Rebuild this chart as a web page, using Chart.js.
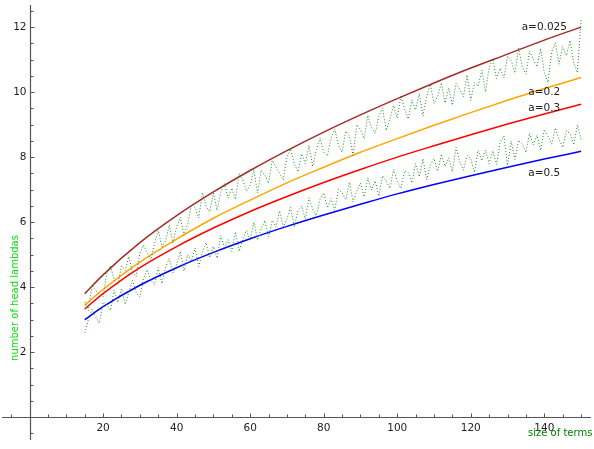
<!DOCTYPE html>
<html>
<head>
<meta charset="utf-8">
<title>head lambdas</title>
<script src="https://cdn.jsdelivr.net/npm/chart.js@4/dist/chart.umd.min.js"></script>
<style>
  html, body { margin: 0; padding: 0; background: #fff; }
  #wrap { width: 594px; height: 449px; position: relative; }
</style>
</head>
<body>
<div id="wrap"><canvas id="chart"></canvas></div>
<script>
/*=========================================================
DATA
=========================================================*/

// fitted curves, read at a few sizes
const curveX = [15, 20, 30, 40, 50, 60, 70, 80, 90, 100, 110, 120, 130, 140, 150];

const a025 = [3.8, 4.38, 5.37, 6.2, 6.93, 7.59, 8.2, 8.77, 9.3, 9.8, 10.28, 10.74, 11.17, 11.6, 12.0];
const a02 = [3.45, 3.93, 4.77, 5.48, 6.12, 6.68, 7.21, 7.69, 8.15, 8.57, 8.98, 9.37, 9.75, 10.11, 10.45];
const a03 = [3.33, 3.8, 4.6, 5.25, 5.82, 6.33, 6.79, 7.22, 7.62, 8.0, 8.35, 8.69, 9.02, 9.33, 9.63];
const a05 = [3.0, 3.4, 4.06, 4.6, 5.07, 5.49, 5.87, 6.22, 6.55, 6.87, 7.16, 7.43, 7.69, 7.94, 8.18];

// measured counts, size of terms 15..150
const firstSize = 15;

const upperBand = [
  3.55, 3.28, 4.06, 3.89, 3.77, 3.7, 4.43, 4.66, 4.24, 4.07,
  4.65, 4.52, 4.94, 4.46, 4.33, 5.05, 5.3, 5.05, 4.85, 5.35,
  5.75, 5.24, 5.43, 5.92, 5.36, 5.85, 6.15, 5.6, 5.95, 6.55,
  6.45, 6.13, 6.91, 6.49, 6.32, 6.9, 6.36, 6.92, 7.18, 6.74,
  7.05, 6.7, 7.5, 7.3, 6.95, 7.15, 7.6, 6.9, 7.6, 7.45,
  7.2, 7.9, 7.7, 7.5, 7.3, 8.0, 8.25, 7.8, 7.55, 8.1,
  7.8, 8.36, 7.72, 8.23, 8.59, 8.15, 8.04, 8.58, 8.87, 8.36,
  8.15, 8.8, 8.65, 8.05, 9.0, 8.85, 8.57, 9.29, 8.91, 8.73,
  9.25, 9.51, 8.82, 9.18, 9.59, 9.2, 9.89, 9.48, 9.17, 9.76,
  9.45, 9.96, 9.27, 9.88, 10.24, 9.65, 9.87, 10.29, 9.66, 10.13,
  9.6, 10.27, 10.09, 9.86, 10.53, 9.75, 10.29, 10.18, 10.67, 10.01,
  10.75, 11.01, 10.42, 10.73, 10.44, 11.1, 10.97, 10.59, 11.36, 10.78,
  10.55, 11.26, 11.02, 10.78, 11.34, 10.6, 10.3, 11.23, 11.52, 10.86,
  11.4, 11.12, 11.59, 10.91, 10.6, 12.25,
];

const lowerBand = [
  2.6, 3.01, 3.32, 3.08, 2.89, 3.55, 3.47, 3.29, 3.91, 3.53,
  3.95, 3.47, 3.84, 4.21, 3.83, 3.7, 4.27, 4.54, 4.21, 4.08,
  4.6, 4.11, 4.62, 4.88, 4.44, 4.7, 5.1, 4.5, 5.0, 4.8,
  5.2, 4.64, 5.08, 5.37, 4.91, 5.25, 4.89, 5.58, 5.22, 5.46,
  5.1, 5.7, 5.1, 5.5, 5.75, 5.45, 6.0, 5.45, 5.8, 6.05,
  5.55, 6.05, 5.85, 6.35, 5.85, 6.1, 6.45, 5.85, 6.35, 6.5,
  6.1, 6.75, 6.4, 6.2, 6.7, 6.9, 6.44, 6.73, 6.37, 7.01,
  6.9, 6.69, 7.23, 6.62, 6.96, 7.2, 6.78, 7.36, 6.99, 7.27,
  6.8, 7.43, 7.26, 7.04, 7.62, 7.25, 7.04, 7.58, 7.52, 7.21,
  7.8, 7.4, 7.95, 7.3, 7.75, 7.95, 7.57, 8.09, 7.71, 7.98,
  7.55, 8.3, 7.85, 7.6, 8.05, 7.95, 7.53, 8.21, 7.89, 8.22,
  7.8, 8.19, 7.78, 8.47, 8.65, 7.75, 8.49, 7.93, 8.52, 8.41,
  8.15, 8.74, 8.38, 8.67, 8.21, 8.85, 8.65, 8.4, 8.9, 8.55,
  8.3, 8.81, 8.72, 8.38, 8.99, 8.55,
];

// curve annotations
const curveNames = ["a=0.025", "a=0.2", "a=0.3", "a=0.5"];
const curveColors = ["#a52a2a", "#ffa500", "#ff0000", "#0000ff"];
const nameX = 140;
const nameY = [12, 10, 9.5, 7.5];

// ticks
const xTickLabels = [20, 40, 60, 80, 100, 120, 140];
const yTickLabels = [2, 4, 6, 8, 10, 12];

/*=========================================================
HELPERS
=========================================================*/

function toPoints(xs, ys) {
  return ys.map((y, i) => ({ x: xs[i], y: y }));
}

const termSizes = upperBand.map((_, i) => firstSize + i);

/*=========================================================
AXES PLUGIN (sage style axes crossing at 0)
=========================================================*/

const crossAxes = {
  id: "crossAxes",

  afterDatasetsDraw(chart) {
    const ctx = chart.ctx;
    const xs = chart.scales.x;
    const ys = chart.scales.y;
    const area = chart.chartArea;

    const x0 = Math.round(xs.getPixelForValue(0)) + 0.5;
    const y0 = Math.round(ys.getPixelForValue(0)) + 0.5;

    ctx.save();
    ctx.strokeStyle = "#555";
    ctx.lineWidth = 1.2;

    ctx.beginPath();
    ctx.moveTo(area.left, y0);
    ctx.lineTo(area.right, y0);
    ctx.moveTo(x0, area.top);
    ctx.lineTo(x0, area.bottom);
    ctx.stroke();

    // x ticks, every 5
    ctx.lineWidth = 1;
    ctx.beginPath();
    for (let v = -5; v <= xs.max; v += 5) {
      if (v === 0) continue;
      const px = Math.round(xs.getPixelForValue(v)) + 0.5;
      const len = v % 20 === 0 ? 4 : 3;
      ctx.moveTo(px, y0);
      ctx.lineTo(px, y0 - len);
    }

    // y ticks, every 0.5
    for (let v = -0.5; v <= ys.max; v += 0.5) {
      if (v === 0) continue;
      const py = Math.round(ys.getPixelForValue(v)) + 0.5;
      const len = v % 2 === 0 ? 4 : 3;
      ctx.moveTo(x0, py);
      ctx.lineTo(x0 + len, py);
    }
    ctx.stroke();

    ctx.fillStyle = "#222";
    ctx.font = "10.5px 'DejaVu Sans'";

    ctx.textAlign = "center";
    ctx.textBaseline = "top";
    xTickLabels.forEach((v) => {
      ctx.fillText(String(v), xs.getPixelForValue(v), y0 + 6);
    });

    ctx.textAlign = "right";
    ctx.textBaseline = "middle";
    yTickLabels.forEach((v) => {
      ctx.fillText(String(v), x0 - 4, ys.getPixelForValue(v));
    });

    // curve names
    ctx.textAlign = "center";
    curveNames.forEach((name, i) => {
      ctx.fillText(name, xs.getPixelForValue(nameX), ys.getPixelForValue(nameY[i]));
    });

    // axis titles
    ctx.font = "10px 'DejaVu Sans'";
    ctx.fillStyle = "#008000";
    ctx.textAlign = "left";
    ctx.fillText("size of terms", 528, 433);

    ctx.fillStyle = "#11dd11";
    ctx.translate(15, 298);
    ctx.rotate(-Math.PI / 2);
    ctx.textAlign = "center";
    ctx.fillText("number of head lambdas", 0, 0);

    ctx.restore();
  },
};

/*=========================================================
CHART
=========================================================*/

const curveSets = [a025, a02, a03, a05].map((ys, i) => ({
  label: curveNames[i],
  data: toPoints(curveX, ys),
  borderColor: curveColors[i],
  borderWidth: 1.5,
  pointRadius: 0,
  cubicInterpolationMode: "monotone",
}));

const bandSets = [upperBand, lowerBand].map((ys) => ({
  label: "measured",
  data: toPoints(termSizes, ys),
  borderColor: "#1a8a1a",
  borderWidth: 1,
  borderDash: [1, 2],
  pointRadius: 0,
  tension: 0,
}));

new Chart(document.getElementById("chart"), {
  type: "line",

  data: {
    datasets: bandSets.concat(curveSets),
  },

  plugins: [crossAxes],

  options: {
    responsive: true,
    maintainAspectRatio: false,
    animation: false,

    layout: {
      padding: { left: 2, right: 3, top: 5, bottom: 9 },
    },

    plugins: {
      legend: { display: false },
      tooltip: { enabled: false },
    },

    scales: {
      x: {
        type: "linear",
        min: -7.5,
        max: 152.7,
        display: false,
      },

      y: {
        type: "linear",
        min: -0.7,
        max: 12.68,
        display: false,
      },
    },
  },
});
</script>
</body>
</html>
